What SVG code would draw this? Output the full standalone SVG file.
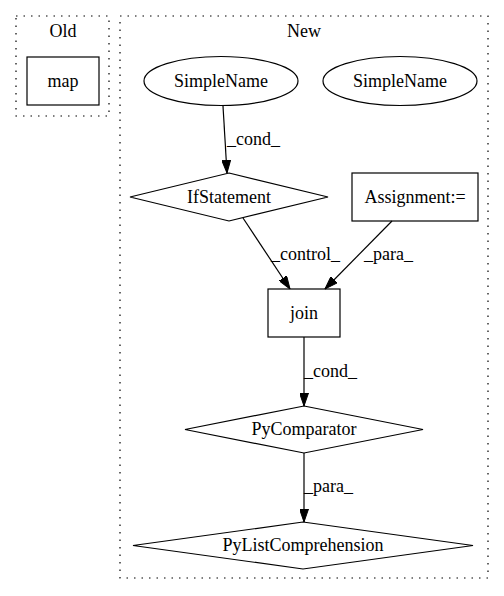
<svg xmlns="http://www.w3.org/2000/svg" width="504" height="596" viewBox="0 0 504 596">
<defs>
<style>
text{font-family:"Liberation Serif","Times New Roman",serif;font-size:18px;fill:#000}
.c{text-anchor:middle}
.n{fill:none;stroke:#000;stroke-width:1.2}
.cl{fill:none;stroke:#000;stroke-width:1.2;stroke-dasharray:1.5,6}
.e{fill:none;stroke:#000;stroke-width:1.2}
</style>
<marker id="ah" viewBox="0 0 13 9" refX="13" refY="4.5" markerWidth="13" markerHeight="9" markerUnits="userSpaceOnUse" orient="auto">
<path d="M0,0L13,4.5L0,9z" fill="#000" stroke="#000"/>
</marker>
</defs>
<rect width="504" height="596" fill="#fff"/>
<g id="cluster_old">
<rect class="cl" x="16" y="16" width="93" height="100"/>
<text class="c" x="63" y="37">Old</text>
</g>
<g id="cluster_new">
<rect class="cl" x="120" y="16" width="368" height="562"/>
<text class="c" x="304" y="37">New</text>
</g>
<g id="map">
<rect class="n" x="27" y="57" width="72" height="48"/>
<text class="c" x="63" y="87">map</text>
</g>
<g id="simplename1">
<ellipse class="n" cx="221" cy="81" rx="77" ry="24.5"/>
<text class="c" x="221" y="87">SimpleName</text>
</g>
<g id="simplename2">
<ellipse class="n" cx="400" cy="81" rx="77" ry="24.5"/>
<text class="c" x="400" y="87">SimpleName</text>
</g>
<g id="ifstatement">
<polygon class="n" points="229,173 328,197 229,221 130,197"/>
<text class="c" x="229" y="203">IfStatement</text>
</g>
<g id="assignment">
<rect class="n" x="352" y="173" width="126" height="48"/>
<text class="c" x="415" y="203">Assignment:=</text>
</g>
<g id="join">
<rect class="n" x="268" y="289" width="72" height="48"/>
<text class="c" x="304" y="319">join</text>
</g>
<g id="pycomparator">
<polygon class="n" points="304,406 423,429.5 304,453 185,429.5"/>
<text class="c" x="304" y="435">PyComparator</text>
</g>
<g id="pylistcomprehension">
<polygon class="n" points="303,522 473,545.5 303,569 133,545.5"/>
<text class="c" x="303" y="551">PyListComprehension</text>
</g>
<g id="edges">
<path class="e" d="M223,106L227,173" marker-end="url(#ah)"/>
<text x="227" y="145">_cond_</text>
<path class="e" d="M243,218L290,289" marker-end="url(#ah)"/>
<text x="271" y="260">_control_</text>
<path class="e" d="M392,221L325,289" marker-end="url(#ah)"/>
<text x="364" y="260">_para_</text>
<path class="e" d="M304,337L304,406" marker-end="url(#ah)"/>
<text x="304" y="377">_cond_</text>
<path class="e" d="M304,453L304,522" marker-end="url(#ah)"/>
<text x="304" y="492">_para_</text>
</g>
</svg>
